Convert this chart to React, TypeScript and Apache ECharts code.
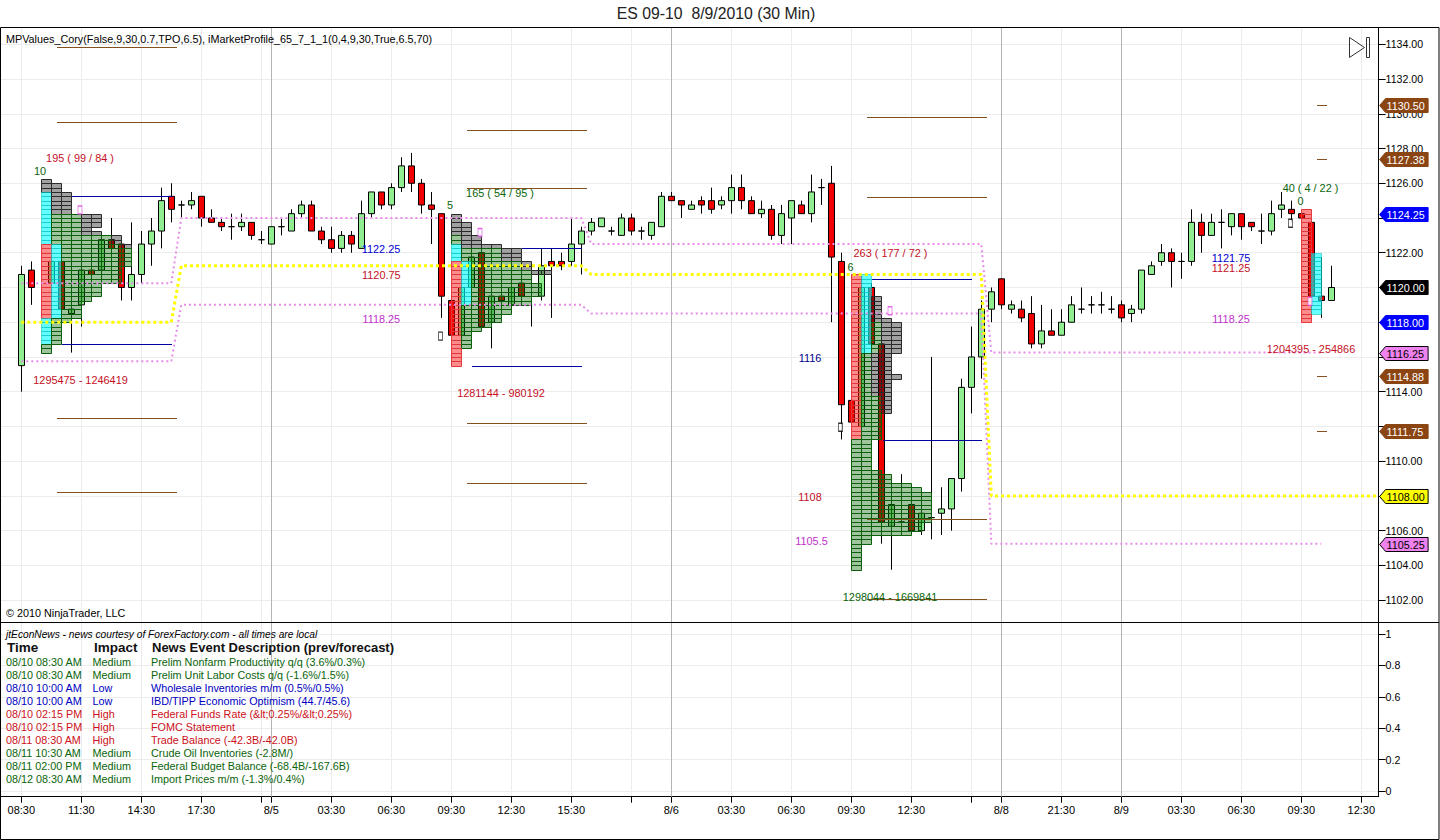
import React, { useEffect, useRef } from "react";
import * as echarts from "echarts";

// open, close, low, high per 30-minute bar (bar 2 sits hidden behind the first profile)
const candles: (number[] | null)[] = [
  [1115.5, 1120.75, 1114, 1121.25], [1121, 1120, 1119, 1121.5], null, [1120.25, 1121.5, 1120, 1121.75],
  [1121.5, 1118.75, 1118.5, 1121.75], [1118.5, 1118.75, 1116.25, 1119], [1119, 1121, 1117.75, 1121.25], [1121, 1120.75, 1120.5, 1121.25],
  [1121, 1122.75, 1120.75, 1123], [1122.75, 1122.25, 1121.5, 1124], [1122.5, 1120, 1119.25, 1122.75], [1120, 1120.75, 1119.25, 1123.75],
  [1120.75, 1122.5, 1120.25, 1123.25], [1122.5, 1123.25, 1121.25, 1124], [1123.25, 1125, 1122.25, 1125.75], [1125.25, 1124.5, 1123.75, 1126],
  [1124.75, 1124.75, 1124, 1125], [1124.75, 1125, 1124.5, 1125.5], [1125.25, 1124, 1123.5, 1125.25], [1124, 1123.75, 1123.75, 1124.5],
  [1123.75, 1123.5, 1123.25, 1124], [1123.5, 1123.5, 1122.75, 1124.25], [1123.5, 1123.75, 1123.25, 1124.25], [1123.75, 1123, 1122.75, 1123.75],
  [1122.75, 1122.75, 1122.5, 1123.25], [1122.5, 1123.5, 1122.5, 1123.5], [1123.5, 1123.5, 1123, 1124], [1123.25, 1124.25, 1123.25, 1124.5],
  [1124.25, 1124.75, 1124, 1125], [1124.75, 1123.25, 1123.25, 1125], [1123.25, 1122.75, 1122.5, 1123.5], [1122.75, 1122.25, 1122, 1123.5],
  [1122.25, 1123, 1122, 1123.25], [1123, 1122.5, 1122, 1123.25], [1122.25, 1124.25, 1122.25, 1125], [1124.25, 1125.5, 1124, 1125.5],
  [1125.5, 1124.75, 1124.5, 1125.5], [1124.75, 1125.75, 1124.5, 1126], [1125.75, 1127, 1125.5, 1127.5], [1127, 1126, 1125.5, 1127.75],
  [1126, 1124.75, 1124.25, 1126.25], [1124.75, 1124.5, 1122.5, 1125.5], [1124.25, 1119.5, 1118.25, 1124.25], [1119.25, 1117.25, 1117.25, 1119.5],
  [1117.25, 1120, 1117.25, 1120.25], [1120, 1121.75, 1119.75, 1122], [1122, 1117.75, 1117.5, 1122.25], [1118, 1119.5, 1116.5, 1119.75],
  [1119.5, 1119.25, 1119, 1119.75], [1119, 1120, 1118.75, 1120.25], [1120.25, 1119.5, 1119.25, 1120.5], [1120, 1120, 1117.75, 1120.5],
  [1119.5, 1121.25, 1119.25, 1122.25], [1121.5, 1121.25, 1118.25, 1122.25], [1121.5, 1121.25, 1121, 1122], [1121.5, 1122.5, 1121.25, 1124],
  [1122.5, 1123.25, 1120.75, 1123.5], [1123.25, 1123.75, 1123, 1124], [1123.5, 1124, 1123.5, 1124], [1123.25, 1123.25, 1123, 1123.5],
  [1123, 1124, 1123, 1124.25], [1124, 1123.25, 1123, 1124.25], [1123.25, 1123.25, 1122.75, 1123.5], [1123, 1123.75, 1122.75, 1123.75],
  [1123.5, 1125.25, 1123.5, 1125.5], [1125.25, 1125, 1125, 1125.5], [1125, 1124.75, 1124, 1125], [1124.5, 1124.75, 1124.5, 1125],
  [1125, 1124.75, 1124.25, 1125.25], [1125, 1124.5, 1124.25, 1125.75], [1124.75, 1125, 1124.5, 1125.25], [1125, 1125.75, 1124.25, 1126.5],
  [1125.75, 1125, 1124.5, 1126.5], [1125, 1124.25, 1124.25, 1125.25], [1124.25, 1124.5, 1124, 1125], [1124.5, 1123, 1122.75, 1124.75],
  [1123, 1124.25, 1122.5, 1124.75], [1124, 1125, 1122.5, 1125], [1124.75, 1124.25, 1124.25, 1125], [1124.25, 1125.5, 1123.75, 1126.5],
  [1125.75, 1125.75, 1124.75, 1126.25], [1126, 1121.75, 1118, 1127], [1121.5, 1113.25, 1111.25, 1122], [1113.5, 1112.25, 1112.25, 1113.5],
  [1112, 1120, 1112, 1120.25], [1120, 1116.75, 1116.75, 1120.25], [1116.75, 1106.5, 1105.25, 1117], [1106.25, 1107.5, 1103.75, 1107.75],
  [1106.5, 1106.5, 1106, 1109.25], [1107.5, 1106, 1106, 1107.5], [1106, 1107, 1105.75, 1107], [1106.75, 1106.75, 1105.5, 1116],
  [1107, 1107.25, 1105.75, 1108.5], [1107.25, 1109, 1106, 1109], [1109, 1114.25, 1108.25, 1114.75], [1114.25, 1116, 1112.75, 1117.75],
  [1116, 1118.75, 1114.75, 1119.25], [1118.75, 1119.75, 1118, 1120], [1120.5, 1119, 1118.75, 1120.5], [1118.75, 1119, 1118.5, 1119.25],
  [1118.75, 1118.25, 1118, 1119.25], [1118.5, 1116.75, 1116.5, 1119.5], [1116.75, 1117.5, 1116.5, 1119], [1117.5, 1117.25, 1117.25, 1118.75],
  [1117.25, 1118, 1117.25, 1118.75], [1118, 1119, 1118, 1119.5], [1118.75, 1118.75, 1118.5, 1120], [1119, 1119, 1118.5, 1119.5],
  [1119, 1119, 1118.5, 1119.75], [1118.75, 1118.75, 1118.5, 1119.5], [1119, 1118.25, 1118, 1119.25], [1118.5, 1118.75, 1118, 1119],
  [1118.75, 1121, 1118.5, 1121], [1120.75, 1121.25, 1120.75, 1121.5], [1121.5, 1122, 1121.25, 1122.5], [1122, 1121.5, 1120, 1122.25],
  [1121.5, 1121.5, 1120.5, 1122], [1121.5, 1123.75, 1121.25, 1124.5], [1123.75, 1123, 1122, 1124.25], [1123, 1123.75, 1123, 1124.25],
  [1123.75, 1123.75, 1122.25, 1124.5], [1123.5, 1124.25, 1123, 1124.25], [1124.25, 1123.5, 1122.75, 1124.25], [1123.75, 1123.5, 1123.25, 1123.75],
  [1123.25, 1123.25, 1122.5, 1124.25], [1123.25, 1124.25, 1123, 1125], [1124.5, 1124.75, 1124, 1125.5], [1124.5, 1124.25, 1123.75, 1125],
  [1124.25, 1124, 1123.75, 1124.25], [1123.75, 1119.5, 1119.25, 1123.75], [1119.5, 1119.25, 1118.25, 1121.75], [1119.25, 1120, 1119.25, 1121.25],
];

// market profiles: rows are [cells in the row, cells in value colour, how many rows alike]
const profile1Rows = [[1,0,1],[2,0,2],[3,0,5],[6,4,2],[6,4,1],[5,4,1],[6,4,1],[8,7,2],[9,8,1],[9,9,4],[8,8,4],[6,6,3],[5,5,1],[4,4,4],[3,3,1],[2,2,5],[1,1,2]];
const profile2Rows = [[1,0,2],[2,0,3],[3,1,2],[5,1,1],[7,5,3],[8,7,2],[10,8,1],[8,8,2],[9,9,3],[8,8,2],[6,6,2],[5,5,2],[4,4,1],[3,3,1],[2,2,4],[1,1,4]];
const profile3Rows = [[2,2,3],[2,2,2],[3,2,5],[4,2,1],[5,3,7],[4,2,5],[5,2,1],[4,2,4],[4,3,4],[3,3,6],[2,2,7],[3,3,1],[4,4,2],[6,6,1],[7,7,1],[8,8,7],[7,7,2],[6,6,1],[2,2,2],[1,1,6]];
const profile4Rows = [[1,1,10],[2,2,14],[1,1,2]];
// [column, first row, last row, kind]
const profile1Marks: any[] = [[0,3,14,"cyan"],[0,15,31,"pink"],[0,32,37,"cyan"],[1,15,31,"cyan"]];
const profile2Marks: any[] = [[0,7,10,"cyan"],[0,11,34,"pink"],[1,11,20,"cyan"]];
const profile3Marks: any[] = [[0,0,37,"pink"],[1,0,17,"cyan"]];
const profile4Marks: any[] = [[0,0,25,"pink"],[1,10,23,"cyan"]];
const profileStartBars = [2, 43, 83, 128];
const profileTopPrices = [1126.25, 1124.25, 1120.75, 1124.5];

// [first bar, last bar, price]
const brownLevels = [
  [3.57,15.57,1133.83],[3.57,15.57,1129.55],[3.57,15.57,1112.5],[3.57,15.57,1108.25],
  [44.57,56.57,1129.05],[44.57,56.57,1125.7],[44.57,56.57,1112.2],[44.57,56.57,1108.75],
  [84.57,96.57,1129.8],[84.57,96.57,1125.2],[84.57,96.57,1106.65],[84.57,96.57,1102.05],
  [129.57,130.57,1130.5],[129.57,130.57,1127.38],[129.57,130.57,1114.88],[129.57,130.57,1111.75],
];
const blueLevels = [
  [5.07,15.07,1125.25],[4.07,15.07,1116.75],[50.07,56.07,1122.25],[45.07,56.07,1115.5],
  [85.07,95.07,1120.5],[86.17,96.07,1111.2],
];
const upperValueLine = [[0,1120.25],[15,1120.25],[16,1124],[56,1124],[57,1122.5],[96,1122.5],[97,1116.25],[130,1116.25]];
const pointOfControlLine = [[0,1118],[15,1118],[16,1121.25],[56,1121.25],[57,1120.75],[96,1120.75],[97,1108],[135.7,1108]];
const lowerValueLine = [[0,1115.75],[15,1115.75],[16,1119],[56,1119],[57,1118.5],[96,1118.5],[97,1105.25],[130,1105.25]];
const pinkMarkers = [[5.87,1124.46],[45.87,1123.17],[86.87,1118.66],[128.87,1119.2]];
const blackMarkers = [[41.92,1117.2],[81.92,1111.95],[126.92,1123.7]];

// [text, kind, bar, price]
const annotations: any[] = [
  ["195 ( 99 / 84 )","red",5.87,1127.5],["10","green",1.87,1126.75],["1295475 - 1246419","red",5.92,1114.72],
  ["165 ( 54 / 95 )","green",47.87,1125.48],["5","green",42.87,1124.79],["1122.25","blue",35.97,1122.26],
  ["1120.75","red",36,1120.76],["1118.25","magenta",36,1118.23],["1281144 - 980192","red",47.97,1113.97],
  ["263 ( 177 / 72 )","red",86.92,1122.03],["6","green",82.92,1121.22],["1116","navy",78.87,1115.99],
  ["1108","red",78.87,1107.99],["1105.5","magenta",79.02,1105.45],["1298044 - 1669841","green",86.87,1102.23],
  ["40 ( 4 / 22 )","green",128.92,1125.77],["0","green",127.92,1125.02],["1121.75","blue",120.97,1121.74],
  ["1121.25","red",120.97,1121.17],["1118.25","magenta",120.97,1118.23],["1204395 - 254866","red",128.97,1116.5],
];
const flagValues = [1130.5,1127.38,1124.25,1120,1118,1116.25,1114.88,1111.75,1108,1105.25];
const flagKinds = ["brown","brown","blue","black","blue","violet","brown","brown","yellow","violet"];

const priceTicks = [1102,1104,1106,1108,1110,1112,1114,1116,1118,1120,1122,1124,1126,1128,1130,1132,1134];
// ticks whose labels the reference's price flags cover are left without one
const priceLabels = [1102,1104,1106,1110,1114,1116,1122,1124,1126,1128,1130,1132,1134];
const lowerTicks = [0,0.2,0.4,0.6,0.8,1];
const timeTickBars = [0,6,12,18,24,25,31,37,43,49,55,61,65,71,77,83,89,95,98,104,110,116,122,128,134];
const timeTickLabels = ["08:30","11:30","14:30","17:30","","8/5","03:30","06:30","09:30","12:30","15:30","","8/6","03:30","06:30","09:30","12:30","","8/8","21:30","8/9","03:30","06:30","09:30","12:30"];
const dayBreakBars = [25,65,98,110];

const newsTimes = ["08/10 08:30 AM","08/10 08:30 AM","08/10 10:00 AM","08/10 10:00 AM","08/10 02:15 PM","08/10 02:15 PM","08/11 08:30 AM","08/11 10:30 AM","08/11 02:00 PM","08/12 08:30 AM"];
const newsImpacts = ["Medium","Medium","Low","Low","High","High","High","Medium","Medium","Medium"];
const newsEvents = ["Prelim Nonfarm Productivity q/q (3.6%/0.3%)","Prelim Unit Labor Costs q/q (-1.6%/1.5%)","Wholesale Inventories m/m (0.5%/0.5%)","IBD/TIPP Economic Optimism (44.7/45.6)","Federal Funds Rate (&lt;0.25%/&lt;0.25%)","FOMC Statement","Trade Balance (-42.3B/-42.0B)","Crude Oil Inventories (-2.8M/)","Federal Budget Balance (-68.4B/-167.6B)","Import Prices m/m (-1.3%/0.4%)"];

const FONT = '"Liberation Sans", Arial, sans-serif';
const textColors: Record<string,string> = { red:"#c4101f", green:"#0a640a", blue:"#0000d0", navy:"#00008b", magenta:"#c032c8" };
const impactColors: Record<string,string> = { Medium:"#0a640a", Low:"#0000c0", High:"#cc1020" };
const flagFills: Record<string,string> = { brown:"#8b4513", blue:"#0000ff", black:"#000000", violet:"#ee82ee", yellow:"#ffff00" };
const flagInk: Record<string,string> = { brown:"#ffffff", blue:"#ffffff", black:"#ffffff", violet:"#000000", yellow:"#000000" };
const cellStyles: Record<string,{fill:string,stroke:string}> = {
  value:{fill:"rgba(0,100,0,0.38)",stroke:"#0b5f0b"},
  outer:{fill:"rgba(0,0,0,0.37)",stroke:"#2a2a2a"},
  cyan:{fill:"rgba(0,255,255,0.6)",stroke:"rgba(0,190,190,0.55)"},
  pink:{fill:"rgba(255,0,0,0.45)",stroke:"#e2383c"},
};

function expandProfile(p: number) {
  const rows = [profile1Rows, profile2Rows, profile3Rows, profile4Rows][p];
  const marks = [profile1Marks, profile2Marks, profile3Marks, profile4Marks][p];
  const cells: any[] = [];
  let r = 0;
  for (const [count, value, repeat] of rows) {
    for (let k = 0; k < repeat; k++, r++) {
      for (let c = 0; c < count; c++) {
        const mark = marks.find((m) => m[0] === c && r >= m[1] && r <= m[2]);
        const kind = mark ? mark[3] : c < value ? "value" : "outer";
        cells.push([profileStartBars[p] + c, profileTopPrices[p] - r * 0.25, kind]);
      }
    }
  }
  return cells;
}

const crisp = (v: number) => Math.round(v) + 0.5;

function segmentSeries(name: string, levels: number[][], stroke: string, grid = 0) {
  return {
    type: "custom", name, xAxisIndex: grid, yAxisIndex: grid, z: 5, silent: true,
    data: levels.map((l) => [l[0], l[2]]),
    renderItem: (params: any, api: any) => {
      const l = levels[params.dataIndex];
      const a = api.coord([l[0], l[2]]);
      const b = api.coord([l[1], l[2]]);
      return { type: "line", shape: { x1: a[0], y1: crisp(a[1]), x2: b[0], y2: crisp(a[1]) }, style: { stroke, lineWidth: 1 } };
    },
  };
}

function dottedSeries(name: string, data: number[][], color: string, width: number, dash: number[], z: number) {
  return {
    type: "line", name, data, xAxisIndex: 0, yAxisIndex: 0, symbol: "none", z, silent: true,
    lineStyle: { color, width, type: dash },
  };
}

function breakSeries(grid: number, low: number, high: number) {
  return {
    type: "custom", xAxisIndex: grid, yAxisIndex: grid, z: 1, silent: true,
    data: dayBreakBars.map((b) => [b, low]),
    renderItem: (params: any, api: any) => {
      const a = api.coord([dayBreakBars[params.dataIndex], low]);
      const b = api.coord([dayBreakBars[params.dataIndex], high]);
      return { type: "line", shape: { x1: crisp(a[0]), y1: a[1], x2: crisp(a[0]), y2: b[1] }, style: { stroke: "#b4b4b4", lineWidth: 1 } };
    },
  };
}

const BAR_MIN = -2.03, BAR_MAX = 135.73;
const PRICE_MIN = 1100.74, PRICE_MAX = 1134.94;

export default function App() {
  const ref = useRef<HTMLDivElement>(null);
  useEffect(() => {
    document.body.style.margin = "0";
    document.body.style.overflow = "hidden";
    const chart = echarts.init(ref.current!, undefined, { renderer: "svg" });
    const cells = [0, 1, 2, 3].flatMap(expandProfile);
    const labelFor = (v: number) => timeTickLabels[timeTickBars.indexOf(v)] ?? "";
    const newsGraphics: any[] = [];
    const addText = (text: string, x: number, y: number, fill: string, fontSize: number, extra: any = {}) =>
      newsGraphics.push({ type: "text", x, y, z: 20, silent: true, style: { text, fill, fontFamily: FONT, fontSize, verticalAlign: "middle", ...extra } });
    addText("jtEconNews - news courtesy of ForexFactory.com - all times are local", 6, 634, "#000", 10.2, { fontStyle: "italic" });
    addText("Time", 7, 647.5, "#111", 13.5, { fontWeight: "bold" });
    addText("Impact", 94, 647.5, "#111", 13.5, { fontWeight: "bold" });
    addText("News Event Description (prev/forecast)", 152, 647.5, "#111", 13, { fontWeight: "bold" });
    newsTimes.forEach((t, i) => {
      const y = 662 + i * 13;
      const c = impactColors[newsImpacts[i]];
      addText(t, 6, y, c, 10.8);
      addText(newsImpacts[i], 92.5, y, c, 10.8);
      addText(newsEvents[i], 151, y, c, 10.8);
    });
    addText("MPValues_Cory(False,9,30,0.7,TPO,6.5), iMarketProfile_65_7_1_1(0,4,9,30,True,6.5,70)", 6, 39, "#000", 10.8);
    addText("© 2010 NinjaTrader, LLC", 6, 613, "#000", 10.8);
    addText("ES 09-10  8/9/2010 (30 Min)", 716, 13, "#222", 15.8, { align: "center" });

    const option: any = {
      animation: false,
      backgroundColor: "#fff",
      textStyle: { fontFamily: FONT },
      graphic: [
        { type: "rect", z: 30, silent: true, shape: { x: 0.5, y: 27.5, width: 1438.5, height: 812 }, style: { fill: "none", stroke: "#000", lineWidth: 1 } },
        { type: "line", z: 30, silent: true, shape: { x1: 0, y1: 622.5, x2: 1439, y2: 622.5 }, style: { stroke: "#000", lineWidth: 1 } },
        { type: "polygon", z: 30, silent: true, shape: { points: [[1349.5,37.5],[1364.5,47.5],[1349.5,57.5]] }, style: { fill: "none", stroke: "#333", lineWidth: 1 } },
        { type: "rect", z: 30, silent: true, shape: { x: 1366.5, y: 37.5, width: 3, height: 20 }, style: { fill: "none", stroke: "#333", lineWidth: 1 } },
        ...newsGraphics,
      ],
      grid: [
        { left: 1, top: 28, width: 1377.6, height: 594 },
        { left: 1, top: 623, width: 1377.6, height: 173.7 },
      ],
      xAxis: [
        { type: "value", gridIndex: 0, min: BAR_MIN, max: BAR_MAX, axisLine: { show: false }, axisLabel: { show: false },
          axisTick: { show: false, customValues: timeTickBars }, splitLine: { show: true, lineStyle: { color: "#ececec", width: 1 } } },
        { type: "value", gridIndex: 1, min: BAR_MIN, max: BAR_MAX,
          axisLine: { show: true, onZero: false, lineStyle: { color: "#000", width: 1 } },
          axisTick: { show: true, length: 6, customValues: timeTickBars, lineStyle: { color: "#000" } },
          axisLabel: { show: true, margin: 8, color: "#000", fontSize: 11, fontFamily: FONT, hideOverlap: false,
            customValues: timeTickBars.filter((_, i) => timeTickLabels[i] !== ""), formatter: (v: number) => labelFor(v) },
          splitLine: { show: true, lineStyle: { color: "#ececec", width: 1 } } },
      ],
      yAxis: [
        { type: "value", gridIndex: 0, position: "right", min: PRICE_MIN, max: PRICE_MAX,
          axisLine: { show: true, onZero: false, lineStyle: { color: "#000", width: 1 } },
          axisTick: { show: true, length: 7, customValues: priceTicks, lineStyle: { color: "#000" } },
          axisLabel: { show: true, margin: 7, color: "#000", fontSize: 10.6, fontFamily: FONT, padding: [2, 0, 0, 0], customValues: priceLabels, formatter: (v: number) => v.toFixed(2) },
          splitLine: { show: true, lineStyle: { color: "#ececec", width: 1 } } },
        { type: "value", gridIndex: 1, position: "right", min: -0.036, max: 1.07,
          axisLine: { show: true, onZero: false, lineStyle: { color: "#000", width: 1 } },
          axisTick: { show: true, length: 7, customValues: lowerTicks, lineStyle: { color: "#000" } },
          axisLabel: { show: true, margin: 7, color: "#000", fontSize: 10.6, fontFamily: FONT, padding: [2, 0, 0, 0], customValues: lowerTicks, formatter: (v: number) => String(v) },
          splitLine: { show: true, lineStyle: { color: "#ececec", width: 1 } } },
      ],
      series: [
        breakSeries(0, PRICE_MIN, PRICE_MAX),
        breakSeries(1, -0.036, 1.07),
        {
          type: "candlestick", name: "ES 09-10", xAxisIndex: 0, yAxisIndex: 0, z: 2, silent: true, barWidth: 7,
          encode: { x: 0, y: [1, 2, 3, 4] },
          data: candles.map((c, i) => (c ? [i, ...c] : null)).filter(Boolean),
          itemStyle: { color: "#90ee90", color0: "#f00000", borderColor: "#000", borderColor0: "#000", borderColorDoji: "#000", borderWidth: 1 },
        },
        {
          type: "custom", name: "Market profile", xAxisIndex: 0, yAxisIndex: 0, z: 3, silent: true,
          data: cells.map((c) => [c[0], c[1]]),
          renderItem: (params: any, api: any) => {
            const c = cells[params.dataIndex];
            const a = api.coord([c[0], c[1]]);
            const b = api.coord([c[0] + 1, c[1] - 0.25]);
            const x1 = crisp(a[0]), y1 = crisp(a[1]), x2 = crisp(b[0]), y2 = crisp(b[1]);
            return { type: "rect", shape: { x: x1, y: y1, width: x2 - x1, height: y2 - y1 }, style: { fill: cellStyles[c[2]].fill, stroke: cellStyles[c[2]].stroke, lineWidth: 1 } };
          },
        },
        dottedSeries("Value area high", upperValueLine, "#e98be9", 2, [2, 3], 4),
        dottedSeries("Value area low", lowerValueLine, "#e98be9", 2, [2, 3], 4),
        dottedSeries("Point of control", pointOfControlLine, "#ffff00", 3, [3, 3], 4),
        segmentSeries("Range levels", brownLevels, "#85501f"),
        segmentSeries("Initial balance", blueLevels, "#0000a0"),
        {
          type: "scatter", name: "Pink markers", xAxisIndex: 0, yAxisIndex: 0, z: 5, silent: true, symbol: "rect", symbolSize: [4, 8],
          data: pinkMarkers, itemStyle: { color: "#fff", borderColor: "#e040e0", borderWidth: 1 },
        },
        {
          type: "scatter", name: "Black markers", xAxisIndex: 0, yAxisIndex: 0, z: 5, silent: true, symbol: "rect", symbolSize: [4, 8],
          data: blackMarkers, itemStyle: { color: "#fff", borderColor: "#000", borderWidth: 1 },
        },
        {
          type: "custom", name: "Annotations", xAxisIndex: 0, yAxisIndex: 0, z: 6, silent: true, clip: false,
          data: annotations.map((a) => [a[2], a[3]]),
          renderItem: (params: any, api: any) => {
            const a = annotations[params.dataIndex];
            const p = api.coord([a[2], a[3]]);
            return { type: "text", x: p[0], y: p[1] + 0.5, style: { text: a[0], fill: textColors[a[1]], fontFamily: FONT, fontSize: 10.9, align: "center", verticalAlign: "middle" } };
          },
        },
        {
          type: "custom", name: "Price flags", xAxisIndex: 0, yAxisIndex: 0, z: 7, silent: true, clip: false,
          data: flagValues.map((v) => [BAR_MAX, v]),
          renderItem: (params: any, api: any) => {
            const v = flagValues[params.dataIndex];
            const k = flagKinds[params.dataIndex];
            const p = api.coord([BAR_MAX, v]);
            const x = p[0], y = Math.round(p[1]) + 0.5;
            return {
              type: "group",
              children: [
                { type: "polygon", shape: { points: [[x + 1, y], [x + 7, y - 7], [x + 49.5, y - 7], [x + 49.5, y + 7], [x + 7, y + 7]] }, style: { fill: flagFills[k], stroke: k === "yellow" || k === "violet" ? "#000" : flagFills[k], lineWidth: 1 } },
                { type: "text", x: x + 8, y: y + 0.5, style: { text: v.toFixed(2), fill: flagInk[k], fontFamily: FONT, fontSize: 10.8, verticalAlign: "middle" } },
              ],
            };
          },
        },
      ],
    };
    chart.setOption(option);
    return () => chart.dispose();
  }, []);
  return <div ref={ref} style={{ width: 1440, height: 840 }} />;
}
